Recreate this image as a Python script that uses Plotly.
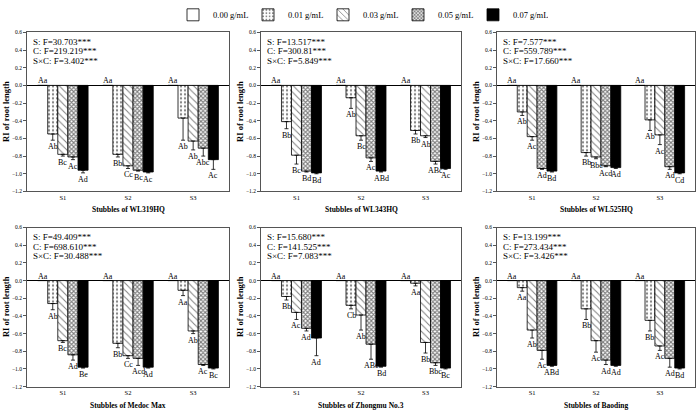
import plotly.graph_objects as go

concs = ["0.00 g/mL", "0.01 g/mL", "0.03 g/mL", "0.05 g/mL", "0.07 g/mL"]
stubbles = ["S1", "S2", "S3"]
cultivars = ["WL319HQ", "WL343HQ", "WL525HQ", "Medoc Max", "Zhongmu No.3", "Baoding"]

# RI values: one list per concentration (over S1, S2, S3)
vals_wl319 = [[0, 0, 0], [-0.55, -0.78, -0.37], [-0.78, -0.91, -0.63], [-0.81, -0.96, -0.71], [-0.96, -0.98, -0.84]]
errs_wl319 = [[0, 0, 0], [0.07, 0.03, 0.25], [0.02, 0.03, 0.10], [0.03, 0.01, 0.09], [0.03, 0.01, 0.11]]
lett_wl319 = [["Aa", "Aa", "Aa"], ["Ab", "Bb", "Ab"], ["Bc", "Cc", "Ab"], ["Ac", "Bc", "Abc"], ["Ad", "Ac", "Ac"]]
fstat_wl319 = ["S: F=30.703***", "C: F=219.219***", "S×C: F=3.402***"]

vals_wl343 = [[0, 0, 0], [-0.41, -0.14, -0.51], [-0.79, -0.57, -0.57], [-0.97, -0.82, -0.86], [-0.99, -0.97, -0.94]]
errs_wl343 = [[0, 0, 0], [0.08, 0.12, 0.04], [0.10, 0.05, 0.02], [0.01, 0.04, 0.03], [0.01, 0.01, 0.01]]
lett_wl343 = [["Aa", "Aa", "Aa"], ["Bb", "Ab", "Bb"], ["Bc", "Bc", "Ab"], ["Bd", "Ac", "ABc"], ["Bd", "ABd", "Ac"]]
fstat_wl343 = ["S: F=13.517***", "C: F=300.81***", "S×C: F=5.849***"]

vals_wl525 = [[0, 0, 0], [-0.30, -0.76, -0.39], [-0.58, -0.81, -0.56], [-0.94, -0.91, -0.92], [-0.97, -0.93, -0.99]]
errs_wl525 = [[0, 0, 0], [0.04, 0.04, 0.12], [0.04, 0.02, 0.11], [0.01, 0.01, 0.03], [0.01, 0.01, 0.01]]
lett_wl525 = [["Aa", "Aa", "Aa"], ["Ab", "Bb", "Ab"], ["Ac", "Bbc", "Ac"], ["Ad", "Acd", "Ad"], ["Bd", "Ad", "Cd"]]
fstat_wl525 = ["S: F=7.577***", "C: F=559.789***", "S×C: F=17.660***"]

vals_medoc = [[0, 0, 0], [-0.26, -0.71, -0.11], [-0.68, -0.85, -0.57], [-0.84, -0.88, -0.95], [-0.98, -0.98, -0.99]]
errs_medoc = [[0, 0, 0], [0.07, 0.05, 0.06], [0.02, 0.03, 0.03], [0.06, 0.08, 0.01], [0.01, 0.01, 0.01]]
lett_medoc = [["Aa", "Aa", "Aa"], ["Ab", "Bb", "Aa"], ["Bc", "Cc", "Ab"], ["Ad", "Acd", "Ac"], ["Be", "Ad", "Bc"]]
fstat_medoc = ["S: F=49.409***", "C: F=698.610***", "S×C: F=30.488***"]

vals_zm3 = [[0, 0, 0], [-0.18, -0.28, -0.03], [-0.36, -0.39, -0.70], [-0.54, -0.72, -0.93], [-0.65, -0.97, -0.99]]
errs_zm3 = [[0, 0, 0], [0.04, 0.04, 0.03], [0.08, 0.17, 0.12], [0.03, 0.17, 0.03], [0.20, 0.01, 0.01]]
lett_zm3 = [["Aa", "Aa", "Aa"], ["Bb", "Cb", "Aa"], ["Ac", "Ab", "Bb"], ["Ad", "ABc", "Bbc"], ["Ad", "Bd", "Bc"]]
fstat_zm3 = ["S: F=15.680***", "C: F=141.525***", "S×C: F=7.083***"]

vals_bd = [[0, 0, 0], [-0.08, -0.32, -0.45], [-0.56, -0.68, -0.74], [-0.79, -0.90, -0.88], [-0.96, -0.96, -0.99]]
errs_bd = [[0, 0, 0], [0.04, 0.12, 0.12], [0.09, 0.13, 0.05], [0.10, 0.05, 0.10], [0.01, 0.01, 0.01]]
lett_bd = [["Aa", "Aa", "Aa"], ["Aa", "Bb", "Bb"], ["Ab", "Ac", "Ac"], ["Ac", "Ad", "Ad"], ["ABd", "Ad", "Bd"]]
fstat_bd = ["S: F=13.199***", "C: F=273.434***", "S×C: F=3.426***"]

yticks = [0.6, 0.4, 0.2, 0.0, -0.2, -0.4, -0.6, -0.8, -1.0, -1.2]

panels = [
    (vals_wl319, errs_wl319, lett_wl319, fstat_wl319),
    (vals_wl343, errs_wl343, lett_wl343, fstat_wl343),
    (vals_wl525, errs_wl525, lett_wl525, fstat_wl525),
    (vals_medoc, errs_medoc, lett_medoc, fstat_medoc),
    (vals_zm3, errs_zm3, lett_zm3, fstat_zm3),
    (vals_bd, errs_bd, lett_bd, fstat_bd),
]

W, H = 700, 415
FONT = "Liberation Serif"
xdoms_px = [(27, 229), (261, 461), (497, 695)]
ydoms_px = [(26, 189), (226, 389)]  # top, bottom in px from top

patterns = [
    dict(shape=""),
    dict(shape=".", size=4, solidity=0.25, fgcolor="black", bgcolor="white"),
    dict(shape="\\", size=5, solidity=0.2, fgcolor="black", bgcolor="white"),
    dict(shape="x", size=3, solidity=0.6, fgcolor="black", bgcolor="white"),
    dict(shape=""),
]
fills = ["white", "white", "white", "white", "black"]

bw = 0.155
offsets = [(k - 2) * bw for k in range(5)]

fig = go.Figure()
annotations = []
layout_axes = {}

for p, (vals, errs, letts, fstat) in enumerate(panels):
    r, c = divmod(p, 3)
    idx = p + 1
    xa = "x" if idx == 1 else f"x{idx}"
    ya = "y" if idx == 1 else f"y{idx}"
    x0, x1 = xdoms_px[c]
    yt, yb = ydoms_px[r]
    xdom = [x0 / W, x1 / W]
    ydom = [1 - yb / H, 1 - yt / H]
    for k in range(5):
        xs = [i + 1 + offsets[k] for i in range(3)]
        fig.add_trace(go.Bar(
            x=xs, y=vals[k], width=bw, name=concs[k],
            marker=dict(color=fills[k], line=dict(color="black", width=0.8),
                        pattern=patterns[k]),
            error_y=dict(type="data", symmetric=False, array=[0, 0, 0],
                         arrayminus=errs[k], color="black", thickness=0.8, width=2,
                         visible=(k > 0)),
            showlegend=(p == 0), legendgroup=concs[k],
            xaxis=xa, yaxis=ya,
        ))
        for i in range(3):
            if k == 0:
                annotations.append(dict(
                    x=xs[i], y=0.0, xref=xa, yref=ya, text=letts[k][i],
                    showarrow=False, yanchor="bottom", xanchor="center",
                    yshift=-2, font=dict(family=FONT, size=8, color="black")))
            else:
                annotations.append(dict(
                    x=xs[i], y=vals[k][i] - errs[k][i], xref=xa, yref=ya,
                    text=letts[k][i], showarrow=False, yanchor="top",
                    xanchor="center", yshift=0,
                    font=dict(family=FONT, size=8, color="black")))
    # F statistics
    for j, t in enumerate(fstat):
        annotations.append(dict(
            x=(x0 + 4) / W, y=1 - (yt + 10 + j * 9.5) / H, xref="paper", yref="paper",
            text=t, showarrow=False, xanchor="left", yanchor="middle",
            font=dict(family=FONT, size=9, color="black")))
    # x title
    annotations.append(dict(
        x=(x0 + x1) / 2 / W, y=1 - (yb + 19) / H, xref="paper", yref="paper",
        text=f"<b>Stubbles of {cultivars[p]}</b>", showarrow=False,
        xanchor="center", yanchor="middle",
        font=dict(family=FONT, size=7.5, color="black")))
    # y title
    annotations.append(dict(
        x=(x0 - 21) / W, y=1 - (yt + yb) / 2 / H, xref="paper", yref="paper",
        text="<b>RI of root length</b>", showarrow=False, textangle=-90,
        xanchor="center", yanchor="middle",
        font=dict(family=FONT, size=8.5, color="black")))

    xkey = "xaxis" if idx == 1 else f"xaxis{idx}"
    ykey = "yaxis" if idx == 1 else f"yaxis{idx}"
    layout_axes[xkey] = dict(
        domain=xdom, anchor=ya, range=[0.45, 3.55], tickvals=[1, 2, 3],
        ticktext=stubbles, showgrid=False, zeroline=False, showline=True,
        mirror=True, linecolor="#555", linewidth=1, ticks="",
        tickfont=dict(family=FONT, size=6.5, color="black"))
    layout_axes[ykey] = dict(
        domain=ydom, anchor=xa, range=[-1.2, 0.6], tickvals=yticks,
        tickformat=".1f", showgrid=False, zeroline=True, zerolinecolor="black",
        zerolinewidth=0.8, showline=True, mirror=True, linecolor="#555",
        linewidth=1, ticks="outside", ticklen=3, tickcolor="#555",
        tickfont=dict(family=FONT, size=5.5, color="black"))

fig.update_layout(
    width=W, height=H, margin=dict(l=0, r=0, t=0, b=0),
    plot_bgcolor="white", paper_bgcolor="white",
    barmode="overlay", annotations=annotations,
    legend=dict(orientation="h", x=0.515, xanchor="center", y=1 - 8 / H,
                yanchor="middle", font=dict(family=FONT, size=8.5, color="black"),
                entrywidth=30, entrywidthmode="pixels", traceorder="normal",
                bgcolor="rgba(0,0,0,0)"),
    **layout_axes,
)

fig.write_html("out.html", config={"displayModeBar": False},
               post_script="document.body.style.margin='0px';")
